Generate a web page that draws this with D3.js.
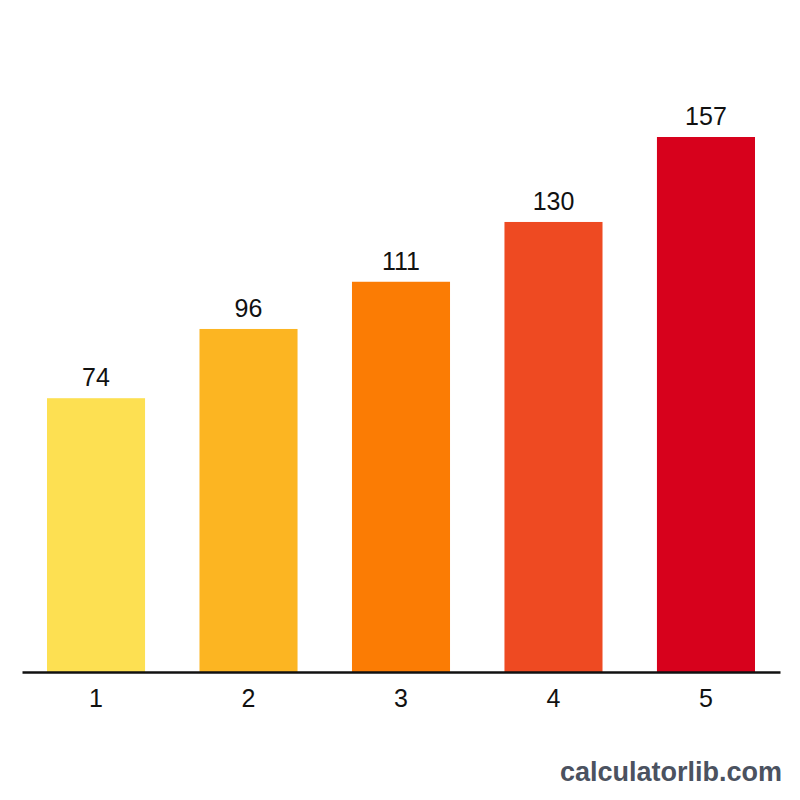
<!DOCTYPE html>
<meta charset="utf-8">
<head>
    <title>Bar chart</title>
</head>
<script src="https://d3js.org/d3.v7.min.js"></script>
<style>
    body { margin: 0; background: #fff; }
    .value { font-family: 'Liberation Sans', Arial, sans-serif; font-size: 25px; fill: #111; text-anchor: middle; }
    .tick text { font-family: 'Liberation Sans', Arial, sans-serif; font-size: 25px; fill: #111; }
    .mark { font-family: 'Liberation Sans', Arial, sans-serif; font-size: 27px; font-weight: bold; fill: #4b5260; text-anchor: end; }
</style>
<div id="viz"></div>
<script>
var categories = ['1', '2', '3', '4', '5'];
var values = [74, 96, 111, 130, 157];
var colors = ['#fde052', '#fcb522', '#fb7c04', '#ee4a22', '#d7011c'];

var width = 800, height = 800;
var svg = d3.select('#viz').append('svg')
    .attr('width', width)
    .attr('height', height);

var x = d3.scaleBand()
    .domain(categories)
    .range([22, 780])
    .paddingInner(0.357)
    .paddingOuter(0.164);

var y = d3.scaleLinear()
    .domain([-13, 157])
    .range([672, 137]);

svg.append('g')
    .selectAll('rect')
    .data(values)
    .enter()
    .append('rect')
    .attr('x', function(d, i) { return x(categories[i]); })
    .attr('y', function(d) { return y(d); })
    .attr('width', x.bandwidth())
    .attr('height', function(d) { return 672 - y(d); })
    .attr('fill', function(d, i) { return colors[i]; });

svg.append('g')
    .selectAll('text')
    .data(values)
    .enter()
    .append('text')
    .attr('class', 'value')
    .attr('x', function(d, i) { return x(categories[i]) + x.bandwidth() / 2; })
    .attr('y', function(d) { return y(d) - 12; })
    .text(function(d) { return d; });

var xAxis = svg.append('g')
    .attr('transform', 'translate(0,672)')
    .call(d3.axisBottom(x).tickSize(0).tickPadding(17));
xAxis.select('.domain')
    .attr('stroke', '#111')
    .attr('stroke-width', 2.5);

svg.append('text')
    .attr('class', 'mark')
    .attr('x', 782)
    .attr('y', 781)
    .text('calculatorlib.com');
</script>
